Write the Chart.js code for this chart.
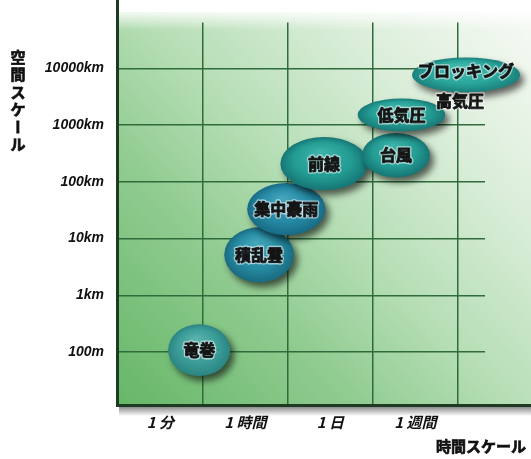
<!DOCTYPE html>
<html>
<head>
<meta charset="utf-8">
<script src="https://cdn.jsdelivr.net/npm/chart.js@4/dist/chart.umd.min.js"></script>
<style>
  html, body { margin: 0; padding: 0; background: #fff; }
  #wrap { width: 531px; height: 459px; }
</style>
</head>
<body>
<div id="wrap"><canvas id="scaleChart"></canvas></div>
<script>
// 1. DATA
const timeLabels = ['1 分', '1 時間', '1 日', '1 週間'];
const timePos = [0.5, 1.5, 2.5, 3.5];
const spaceLabels = ['100m', '1km', '10km', '100km', '1000km', '10000km'];
const spaceTicks = [0.1, 1, 10, 100, 1000, 10000];

const phenomena = ['竜巻', '積乱雲', '集中豪雨', '前線', '台風', '低気圧', 'ブロッキング\n高気圧'];
const timeFrom  = [0.59, 1.25, 1.52, 1.91, 2.87, 2.82, 3.46];
const timeTo    = [1.32, 2.07, 2.44, 2.94, 3.67, 3.85, 4.73];
const spaceFrom = [0.038, 1.7, 11.5, 71, 120, 776, 3800];   // km
const spaceTo   = [0.31, 15.8, 95, 616, 724, 2950, 15500];  // km

// colours of each bubble (light, mid, edge)
const bubbleColors = [
    ['#5cb3ad', '#3c9d98', '#2b8582'],
    ['#45a8ba', '#268ba2', '#1a6b80'],
    ['#45a5bc', '#2689a4', '#186a84'],
    ['#3db4a9', '#239c94', '#167675'],
    ['#3db4a9', '#239c94', '#167675'],
    ['#43b9ad', '#269f96', '#177a77'],
    ['#4bbfb2', '#2aa69c', '#1a817c']
];
const gridColor = '#2f6b3b';

// 2. PLUGINS
const backgroundPlugin = {
    id: 'background',
    beforeDraw(chart) {
        const ctx = chart.ctx;
        const left = 118, top = 12, right = chart.width, bottom = 405;
        ctx.save();
        ctx.fillStyle = '#fff';
        ctx.fillRect(0, 0, chart.width, chart.height);
        const g = ctx.createLinearGradient(left, bottom, right, top);
        g.addColorStop(0, '#66b768');
        g.addColorStop(0.3, '#90cb90');
        g.addColorStop(0.5, '#b6deb5');
        g.addColorStop(0.75, '#dbeeda');
        g.addColorStop(1, '#f7faf5');
        ctx.fillStyle = g;
        ctx.fillRect(left, top, right - left, bottom - top);
        // light band at the top
        const t = ctx.createLinearGradient(0, top, 0, top + 18);
        t.addColorStop(0, 'rgba(255,255,255,0.85)');
        t.addColorStop(1, 'rgba(255,255,255,0)');
        ctx.fillStyle = t;
        ctx.fillRect(left, top, right - left, 18);
        ctx.restore();
    }
};

const ellipsePlugin = {
    id: 'ellipses',
    afterDatasetsDraw(chart) {
        const { ctx, scales: { x, y } } = chart;
        phenomena.forEach((name, i) => {
            const x1 = x.getPixelForValue(timeFrom[i]);
            const x2 = x.getPixelForValue(timeTo[i]);
            const y1 = y.getPixelForValue(spaceTo[i]);
            const y2 = y.getPixelForValue(spaceFrom[i]);
            const cx = (x1 + x2) / 2, cy = (y1 + y2) / 2;
            const rx = (x2 - x1) / 2, ry = (y2 - y1) / 2;
            const [c0, c1, c2] = bubbleColors[i];

            ctx.save();
            ctx.shadowColor = 'rgba(0,0,0,0.6)';
            ctx.shadowBlur = 7;
            ctx.shadowOffsetX = 4;
            ctx.shadowOffsetY = 5;
            ctx.translate(cx, cy);
            ctx.scale(rx, ry);
            const g = ctx.createRadialGradient(-0.1, -0.45, 0, 0, 0, 1);
            g.addColorStop(0, c0);
            g.addColorStop(0.65, c1);
            g.addColorStop(1, c2);
            ctx.fillStyle = g;
            ctx.beginPath();
            ctx.arc(0, 0, 1, 0, Math.PI * 2);
            ctx.fill();
            ctx.restore();

            // label (with a light halo, thickened a bit)
            ctx.save();
            ctx.font = 'bold 16px "Noto Sans CJK JP"';
            ctx.textAlign = 'center';
            ctx.textBaseline = 'middle';
            ctx.lineJoin = 'round';
            const lines = name.split('\n');
            lines.forEach((line, k) => {
                const ty = cy - (lines.length > 1 ? 4 : 0) + k * 30;
                const tx = cx - (k > 0 ? 6 : 0);
                ctx.strokeStyle = 'rgba(255,255,255,0.55)';
                ctx.lineWidth = 3.5;
                ctx.strokeText(line, tx, ty);
                ctx.strokeStyle = '#141414';
                ctx.lineWidth = 0.8;
                ctx.strokeText(line, tx, ty);
                ctx.fillStyle = '#141414';
                ctx.fillText(line, tx, ty);
            });
            ctx.restore();
        });
    }
};

const framePlugin = {
    id: 'frame',
    afterDraw(chart) {
        const ctx = chart.ctx;
        ctx.save();
        // bottom shadow
        const s = ctx.createLinearGradient(0, 406, 0, 416);
        s.addColorStop(0, 'rgba(0,0,0,0.5)');
        s.addColorStop(1, 'rgba(0,0,0,0)');
        ctx.fillStyle = s;
        ctx.fillRect(119, 406, chart.width - 119, 10);
        // left and bottom edges
        ctx.fillStyle = '#1d3a22';
        ctx.fillRect(116, 0, 3, 407);
        ctx.fillRect(116, 404, chart.width - 116, 3);

        // axis titles
        ctx.fillStyle = '#111';
        ctx.strokeStyle = '#111';
        ctx.lineWidth = 0.7;
        ctx.font = 'bold 15px "Noto Sans CJK JP"';
        ctx.textAlign = 'right';
        ctx.textBaseline = 'middle';
        ctx.fillText('時間スケール', 526, 446);
        ctx.strokeText('時間スケール', 526, 446);

        ctx.textAlign = 'center';
        const chars = Array.from('空間スケール');
        chars.forEach((ch, k) => {
            const cy = 57 + k * 17.5;
            ctx.save();
            ctx.translate(18, cy);
            if (ch === 'ー') ctx.rotate(Math.PI / 2);
            ctx.fillText(ch, 0, 0);
            ctx.strokeText(ch, 0, 0);
            ctx.restore();
        });
        ctx.restore();
    }
};

// 3. CHART
new Chart(document.getElementById('scaleChart'), {
    type: 'scatter',
    data: {
        datasets: [{
            data: phenomena.map((n, i) => ({
                x: (timeFrom[i] + timeTo[i]) / 2,
                y: Math.sqrt(spaceFrom[i] * spaceTo[i])
            })),
            pointRadius: 0
        }]
    },
    options: {
        responsive: true,
        maintainAspectRatio: false,
        animation: false,
        layout: { padding: { left: 0, top: 22, right: 46, bottom: 0 } },
        plugins: {
            legend: { display: false },
            tooltip: { enabled: false }
        },
        scales: {
            x: {
                type: 'linear',
                min: 0,
                max: 4.318,
                afterBuildTicks: s => { s.ticks = [0.5, 1, 1.5, 2, 2.5, 3, 3.5, 4].map(v => ({ value: v })); },
                afterFit: s => { s.height = 54; },
                border: { display: false },
                grid: {
                    drawTicks: false,
                    lineWidth: 1.5,
                    color: c => Number.isInteger(c.tick && c.tick.value) ? gridColor : 'rgba(0,0,0,0)'
                },
                ticks: {
                    autoSkip: false,
                    maxRotation: 0,
                    padding: 8,
                    color: '#111',
                    font: { family: '"Noto Sans CJK JP"', size: 15, weight: 'bold', style: 'italic' },
                    callback: v => {
                        const k = timePos.indexOf(v);
                        return k >= 0 ? timeLabels[k] : '';
                    }
                }
            },
            y: {
                type: 'logarithmic',
                min: 0.0117,
                max: 64500,
                afterBuildTicks: s => { s.ticks = spaceTicks.map(v => ({ value: v })); },
                afterFit: s => { s.width = 118; },
                border: { display: false },
                grid: { drawTicks: false, lineWidth: 1.5, color: gridColor },
                ticks: {
                    autoSkip: false,
                    padding: 14,
                    color: '#111',
                    font: { family: '"Liberation Sans"', size: 14, weight: 'bold', style: 'italic' },
                    callback: (v, i) => spaceLabels[i]
                }
            }
        }
    },
    plugins: [backgroundPlugin, ellipsePlugin, framePlugin]
});
</script>
</body>
</html>
